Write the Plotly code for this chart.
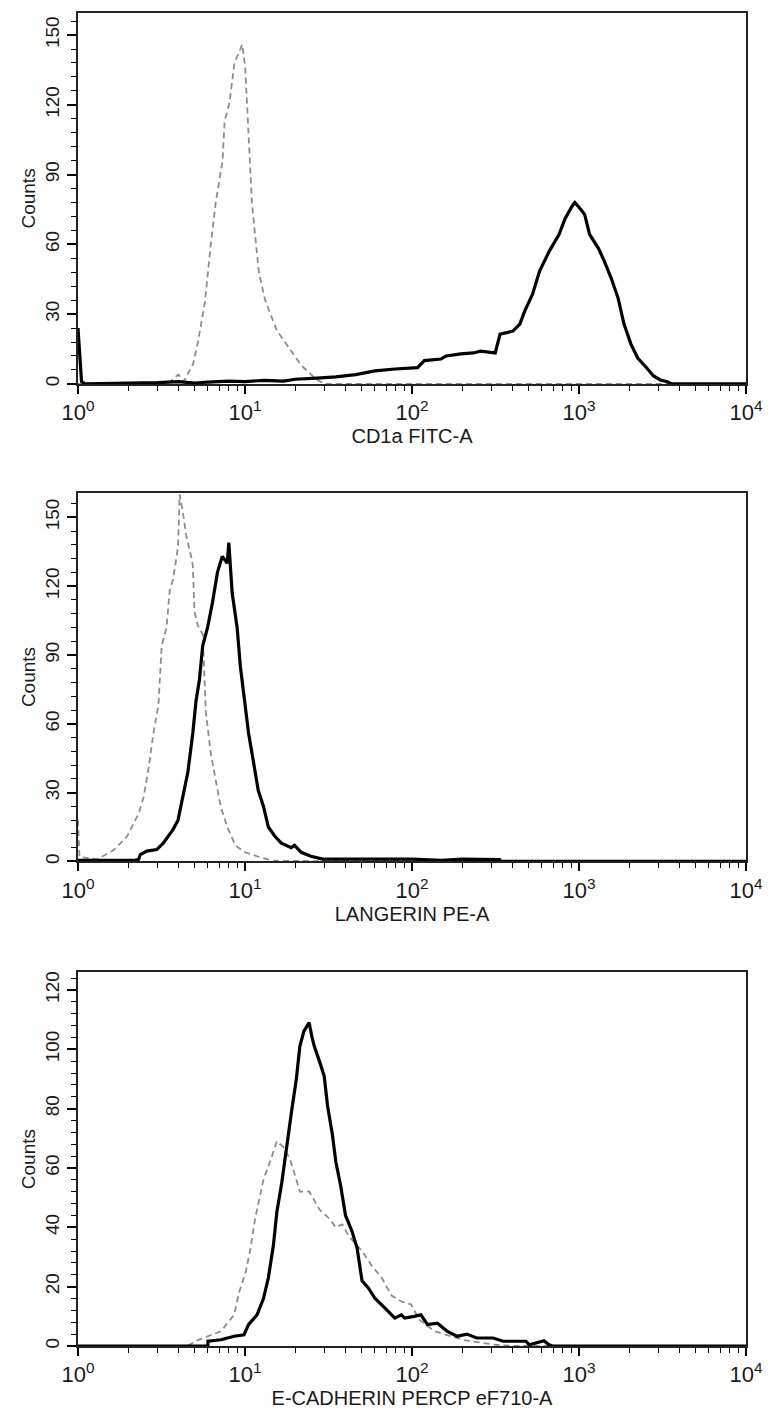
import plotly.graph_objects as go

# ---------------- data ----------------
# Panel 1: CD1a FITC-A
cd1a_solid_x = [1.0, 1.02, 1.05, 1.1, 3.0, 4.0, 5.0, 6.0, 8.0, 10.0, 13.0, 17.0, 20.0, 27.0, 35.0, 46.0,
                60.0, 79.0, 108.0, 118.5, 149.0, 160.0, 196.0, 233.0, 257.0, 315.0, 337.0, 402.0, 442.0,
                473.0, 527.0, 580.0, 663.0, 760.0, 825.0, 907.0, 944.0, 1000.0, 1081.0, 1157.0, 1307.0,
                1419.0, 1560.0, 1714.0, 1860.0, 2046.0, 2249.0, 2576.0, 2795.0, 3072.0, 3378.0, 3600.0, 10000.0]
cd1a_solid_y = [24, 15, 1, 0, 0.5, 1, 0.3, 0.8, 1.2, 1, 1.5, 1.2, 2, 2.5, 3, 4,
                5.6, 6.4, 7, 10, 10.7, 12, 12.9, 13.3, 14.1, 13.3, 21.4, 22.7, 25.7,
                31.3, 38.6, 48.4, 57, 64.3, 71, 76.3, 78, 76, 72.9, 64.3, 58.3,
                52.7, 45.4, 36.9, 25.7, 17.1, 11.1, 6.4, 3.4, 1.7, 0.9, 0, 0]
cd1a_iso_x = [1.0, 2.66, 3.5, 3.99, 4.3, 4.89, 5.23, 5.75, 6.24, 6.68, 7.34, 7.55, 8.08, 8.64, 9.38,
              9.63, 10.03, 10.3, 11.0, 12.1, 13.2, 15.5, 19.0, 21.7, 26.7, 30.0, 3500.0]
cd1a_iso_y = [0, 0, 0.5, 4, 1, 8.6, 18, 35, 60, 78, 96, 113, 121, 138, 144,
              146, 136, 121, 78, 48, 36, 23, 14, 8, 2, 0, 0]

# Panel 2: LANGERIN PE-A
lang_solid_x = [1.0, 2.2, 2.31, 2.36, 2.58, 2.96, 3.24, 3.71, 3.97, 4.25, 4.55, 4.87, 5.09, 5.33, 5.58,
                5.97, 6.39, 6.84, 7.31, 7.83, 8.0, 8.38, 8.97, 9.38, 9.8, 10.5, 11.2, 12.0, 12.9, 13.8,
                15.1, 16.5, 18.9, 19.8, 21.7, 24.8, 29.2, 40.0, 60.0, 100.0, 150.0, 200.0, 335.0, 340.0,
                10000.0]
lang_solid_y = [0.5, 0.5, 1, 3, 4.5, 5.2, 8, 14, 18, 28, 39, 56, 70, 79, 94,
                102, 113, 126, 133, 130, 139, 117, 102, 85, 73, 56, 44, 31, 24, 15,
                11, 8, 6, 7, 4, 2.3, 1, 1, 0.8, 1, 0.5, 1, 0.8, 0,
                0]
lang_iso_x = [1.0, 1.02, 1.31, 1.64, 1.97, 2.31, 2.47, 2.65, 2.83, 3.03, 3.17, 3.39, 3.54, 3.71, 3.97,
              4.06, 4.25, 4.45, 4.76, 4.87, 4.98, 5.21, 5.58, 5.83, 6.24, 6.68, 7.15, 7.83, 8.76, 10.0,
              12.6, 15.1, 10000.0]
lang_iso_y = [18, 2, 1, 5, 11, 21, 28, 41, 56, 68, 94, 102, 118, 123, 137,
              160, 152, 142, 133, 129, 109, 103, 99, 65, 47, 36, 24, 15, 7, 4,
              1.6, 0.2, 0]

# Panel 3: E-CADHERIN PERCP eF710-A
ecad_solid_x = [1.0, 5.99, 6.0, 7.18, 8.61, 9.86, 10.5, 11.8, 12.9, 13.8, 14.8, 15.5, 16.6, 17.7, 19.0,
                20.3, 21.3, 22.5, 24.2, 25.2, 26.0, 27.9, 29.8, 31.2, 33.4, 35.0, 37.4, 40.0, 43.8, 46.9,
                50.2, 54.9, 60.1, 68.9, 78.9, 86.4, 90.3, 103.0, 113.0, 124.0, 142.0, 163.0, 186.0, 213.0,
                244.0, 306.0, 351.0, 481.0, 504.0, 617.0, 661.0, 700.0, 10000.0]
ecad_solid_y = [0, 0, 1.6, 2.1, 3.3, 3.8, 7.2, 10.5, 16, 23, 34, 45, 55, 67, 79,
                90, 101, 106, 109, 104, 101, 96, 91, 81, 71, 62, 54, 44, 38.5, 33,
                22, 19.5, 16, 12.8, 9.4, 10.5, 9.4, 10, 10.5, 7.2, 7.7, 4.9, 3.3, 4,
                2.7, 2.7, 1.6, 1.6, 0.4, 1.8, 0.4, 0, 0]
ecad_iso_x = [1.0, 4.5, 5.23, 7.18, 8.61, 9.21, 10.1, 10.8, 11.5, 12.9, 14.5, 15.5, 17.0, 18.6, 20.3,
              21.3, 24.3, 27.9, 31.9, 35.0, 38.3, 41.9, 50.2, 57.5, 65.9, 75.4, 86.4, 98.9, 110.0,
              136.0, 204.0, 306.0, 400.0, 10000.0]
ecad_iso_y = [0, 0, 2, 5, 10.5, 18, 25, 33, 43, 56, 64, 69, 67, 63, 56,
              52, 52, 46, 43, 40, 41, 37, 32, 27, 23, 17, 15, 14, 9,
              5, 2, 0.5, 0, 0]

x_titles = ["CD1a FITC-A", "LANGERIN PE-A", "E-CADHERIN PERCP eF710-A"]
y_ticks = [[0, 30, 60, 90, 120, 150], [0, 30, 60, 90, 120, 150], [0, 20, 40, 60, 80, 100, 120]]
y_minor_step = [6, 6, 4]
y_max = [159.5, 160.8, 126.0]
x_tickvals = [1, 10, 100, 1000, 10000]
x_ticktext = ["10<sup>0</sup>", "10<sup>1</sup>", "10<sup>2</sup>", "10<sup>3</sup>", "10<sup>4</sup>"]
x_minor_vals = [m * d for d in (1, 10, 100, 1000) for m in range(2, 10)]

panels = [
    (cd1a_iso_x, cd1a_iso_y, cd1a_solid_x, cd1a_solid_y),
    (lang_iso_x, lang_iso_y, lang_solid_x, lang_solid_y),
    (ecad_iso_x, ecad_iso_y, ecad_solid_x, ecad_solid_y),
]

# ---------------- figure ----------------
W, H = 774, 1414
ML, MR, MT, MB = 78, 17, 11, 66
PH = H - MT - MB
# pixel rows of each plot area (top, bottom)
rows_px = [(11, 383), (492, 862), (973, 1348)]

FONT = "Liberation Sans Narrow, Liberation Sans, Arial, sans-serif"
FONT_Y = "Liberation Sans, Arial, sans-serif"
INK = "#1a1a1a"
fig = go.Figure()

for i, (ix, iy, sx, sy) in enumerate(panels):
    n = "" if i == 0 else str(i + 1)
    fig.add_trace(go.Scatter(x=ix, y=iy, mode="lines", xaxis="x" + n, yaxis="y" + n,
                             line=dict(color="#8c8c8c", width=1.8, dash="6px,4px"),
                             showlegend=False, hoverinfo="skip"))
    fig.add_trace(go.Scatter(x=sx, y=sy, mode="lines", xaxis="x" + n, yaxis="y" + n,
                             line=dict(color="black", width=3.2),
                             showlegend=False, hoverinfo="skip"))
    top, bot = rows_px[i]
    dom = [(H - MB - bot) / PH, (H - MB - top) / PH]
    xa = dict(type="log", range=[0, 4], domain=[0, 1], anchor="y" + n,
              tickvals=x_tickvals, ticktext=x_ticktext, ticks="outside", ticklen=8,
              tickwidth=1.6, tickcolor="black",
              minor=dict(tickvals=x_minor_vals, ticks="outside", ticklen=5, tickwidth=1.3,
                         tickcolor="black", showgrid=False),
              showline=True, linecolor="#222", linewidth=2, mirror=True,
              showgrid=False, zeroline=False,
              tickfont=dict(family=FONT, size=22, color=INK),
              title=dict(text=x_titles[i], font=dict(family=FONT, size=20, color=INK), standoff=2))
    ya = dict(range=[0, y_max[i]], domain=dom, anchor="x" + n,
              tickvals=y_ticks[i], ticks="outside", ticklen=9, tickwidth=1.6, tickcolor="black",
              minor=dict(dtick=y_minor_step[i], tick0=0, ticks="outside", ticklen=5, tickwidth=1.3,
                         tickcolor="black", showgrid=False),
              showline=True, linecolor="#222", linewidth=2, mirror=True,
              showgrid=False, zeroline=False, tickangle=-90,
              tickfont=dict(family=FONT_Y, size=19, color=INK),
              title=dict(text="Counts", font=dict(family=FONT_Y, size=19, color=INK), standoff=2))
    fig.update_layout({("xaxis" + n): xa, ("yaxis" + n): ya})

fig.update_layout(width=W, height=H, margin=dict(l=ML, r=MR, t=MT, b=MB),
                  paper_bgcolor="white", plot_bgcolor="white",
                  font=dict(family=FONT, color=INK))

fig.write_html("out.html")
